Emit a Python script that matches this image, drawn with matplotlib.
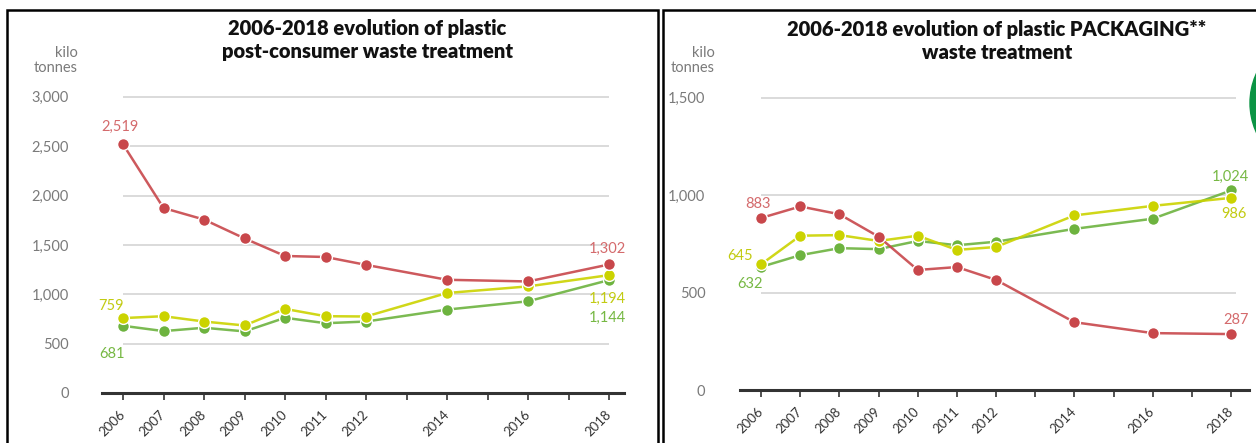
import matplotlib
matplotlib.use("Agg")
import matplotlib.pyplot as plt
from matplotlib.patches import Rectangle, Circle
from matplotlib.transforms import IdentityTransform

plt.rcParams['font.family'] = ['Lato', 'DejaVu Sans']

# ---- data (kilo tonnes) ----
years = [2006, 2007, 2008, 2009, 2010, 2011, 2012, 2014, 2016, 2018]
tick_years = list(range(2006, 2019))
tick_labels = [str(y) if y in years else "" for y in tick_years]

post_landfill = [2519, 1874, 1757, 1566, 1388, 1378, 1298, 1147, 1130, 1302]
post_energy = [759, 778, 724, 684, 852, 778, 775, 1013, 1080, 1194]
post_recycling = [681, 627, 661, 624, 762, 707, 724, 845, 929, 1144]

pack_landfill = [883, 942, 902, 787, 616, 631, 565, 348, 292, 287]
pack_energy = [645, 792, 795, 765, 792, 719, 734, 896, 945, 986]
pack_recycling = [632, 692, 728, 723, 765, 743, 761, 827, 879, 1024]

post_yticks = [0, 500, 1000, 1500, 2000, 2500, 3000]
pack_yticks = [0, 500, 1000, 1500]

title_left = "2006-2018 evolution of plastic\npost-consumer waste treatment"
title_right = "2006-2018 evolution of plastic PACKAGING**\nwaste treatment"

# ---- styling ----
RED, RED_TXT = "#c8474b", "#d46a6c"
YEL, YEL_TXT = "#cbd300", "#c2cb12"
GRN, GRN_TXT = "#6db33f", "#76b843"
GRID = "#dadada"
AXIS = "#333333"
TICKTXT = "#7a7a7a"

W, H = 1256, 443
fig = plt.figure(figsize=(W / 100, H / 100), dpi=100)


def px_rect(left, right, top, bottom):
    return [left / W, (H - bottom) / H, (right - left) / W, (bottom - top) / H]


def draw_panel(ax, series, yticks, ylim, xlim, grid_right, labels):
    ax.set_xlim(*xlim)
    ax.set_ylim(*ylim)
    for s in ("top", "right", "left"):
        ax.spines[s].set_visible(False)
    ax.spines["bottom"].set_color(AXIS)
    ax.spines["bottom"].set_linewidth(2.2)
    ax.patch.set_alpha(0)

    # horizontal guides
    ax.hlines([t for t in yticks if t > 0], 2006, grid_right,
              color=GRID, lw=1.4, zorder=1)

    ax.set_xticks(tick_years)
    ax.set_xticklabels(tick_labels, rotation=45, ha="right", va="center",
                       rotation_mode="anchor", fontsize=9.5, color=AXIS)
    ax.tick_params(axis="x", direction="out", length=5, width=1.2,
                   color=AXIS, pad=9)
    ax.set_yticks(yticks)
    ax.set_yticklabels([f"{t:,}" for t in yticks], fontsize=10.5, color=TICKTXT)
    ax.tick_params(axis="y", length=0, pad=0)

    for vals, col, z in series:
        ax.plot(years, vals, color=col, lw=1.8, alpha=0.9, zorder=z,
                solid_capstyle="round")
        ax.plot(years, vals, ls="none", marker="o", ms=8.5, mfc=col,
                mec="white", mew=1.0, zorder=z + 0.5)

    for x, y, text, col, dx, dy in labels:
        ax.annotate(text, (x, y), xytext=(dx, dy), textcoords="offset pixels",
                    ha="center", va="center", fontsize=10.5, color=col,
                    zorder=10)


# left panel: post-consumer waste
axL = fig.add_axes(px_rect(102, 624, 87, 393))
draw_panel(
    axL,
    [(post_recycling, GRN, 3), (post_energy, YEL, 4), (post_landfill, RED, 5)],
    post_yticks, (0, 3100), (2005.48, 2018.37), 2018,
    [
        (2006, post_landfill[0], f"{post_landfill[0]:,}", RED_TXT, -3, 17),
        (2006, post_energy[0], f"{post_energy[0]:,}", YEL_TXT, -12, 12),
        (2006, post_recycling[0], f"{post_recycling[0]:,}", GRN_TXT, -11, -28),
        (2018, post_landfill[-1], f"{post_landfill[-1]:,}", RED_TXT, -2, 16),
        (2018, post_energy[-1], f"{post_energy[-1]:,}", YEL_TXT, -2, -24),
        (2018, post_recycling[-1], f"{post_recycling[-1]:,}", GRN_TXT, -2, -38),
    ],
)
axL.yaxis.set_tick_params(pad=24)

# right panel: packaging waste
axR = fig.add_axes(px_rect(740, 1249, 88, 390))
draw_panel(
    axR,
    [(pack_recycling, GRN, 3), (pack_energy, YEL, 4), (pack_landfill, RED, 5)],
    pack_yticks, (0, 1550), (2005.46, 2018.46), 2018.13,
    [
        (2006, pack_landfill[0], f"{pack_landfill[0]:,}", RED_TXT, -3, 14),
        (2006, pack_energy[0], f"{pack_energy[0]:,}", YEL_TXT, -21, 8),
        (2006, pack_recycling[0], f"{pack_recycling[0]:,}", GRN_TXT, -11, -17),
        (2018, pack_recycling[-1], f"{pack_recycling[-1]:,}", GRN_TXT, -1, 14),
        (2018, pack_energy[-1], f"{pack_energy[-1]:,}", YEL_TXT, 3, -16),
        (2018, pack_landfill[-1], f"{pack_landfill[-1]:,}", RED_TXT, 5, 14),
    ],
)
axR.yaxis.set_tick_params(pad=25)

# unit captions
for xr in (78, 715):
    fig.text(xr / W, 1 - 53 / H, "kilo", ha="right", va="center",
             fontsize=10.5, color=TICKTXT)
    fig.text(xr / W, 1 - 68 / H, "tonnes", ha="right", va="center",
             fontsize=10.5, color=TICKTXT)

# titles
fig.text(367 / W, 1 - 40 / H, title_left, ha="center", va="center",
         fontsize=14.5, fontweight="heavy", color="#111111", linespacing=1.3)
fig.text(997 / W, 1 - 41 / H, title_right, ha="center", va="center",
         fontsize=14.5, fontweight="heavy", color="#111111", linespacing=1.3)

# panel frames
for x0, x1 in ((7, 658), (663, 1270)):
    fig.add_artist(Rectangle((x0 / W, -0.05), (x1 - x0) / W, 1.05 - 10 / H,
                             transform=fig.transFigure, fill=False,
                             ec="black", lw=1.8))

# green badge at the right edge (pixel coordinates)
fig.add_artist(Circle((1321, H - 103), 71, transform=IdentityTransform(),
                      color="#0b9444", zorder=0))

fig.savefig("out.png", dpi=100)
